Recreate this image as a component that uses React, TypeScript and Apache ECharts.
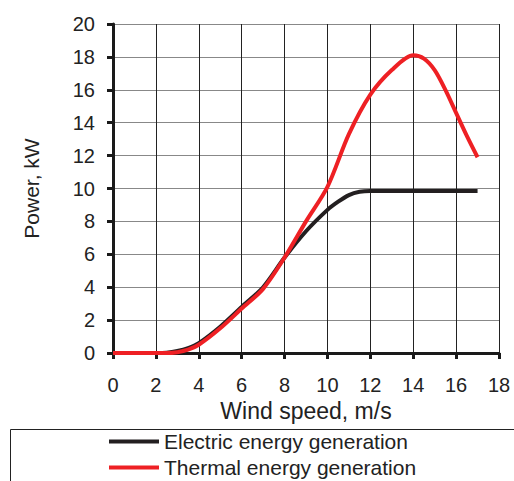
import React, { useEffect, useRef } from "react";
import * as echarts from "echarts";

const windSpeed = [0, 1, 2, 2.5, 3, 3.5, 4, 5, 6, 7, 8, 9, 10, 10.5, 11, 11.5, 12, 13, 14, 15, 16, 17];
const electric = [0, 0, 0, 0.02, 0.12, 0.3, 0.6, 1.6, 2.8, 4.0, 5.8, 7.4, 8.7, 9.2, 9.6, 9.8, 9.85, 9.85, 9.85, 9.85, 9.85, 9.85];
const thermalX = [0, 1, 2, 2.5, 3, 3.5, 4, 5, 6, 7, 8, 9, 10, 11, 12, 13, 14, 14.5, 15, 15.5, 16, 16.5, 17];
const thermal = [0, 0, 0, 0, 0.05, 0.2, 0.5, 1.5, 2.7, 3.9, 5.8, 8.0, 10.1, 13.3, 15.7, 17.2, 18.1, 17.9, 17.2, 16.0, 14.6, 13.2, 11.9];
const seriesNames = ["Electric energy generation", "Thermal energy generation"];

export default function App() {
  const ref = useRef<HTMLDivElement>(null);
  useEffect(() => {
    const chart = echarts.init(ref.current!, null, { renderer: "svg" });
    const font = "Liberation Sans, Arial, sans-serif";
    const legendBase = {
      orient: "horizontal",
      left: 104,
      itemWidth: 50,
      itemHeight: 4,
      icon: "rect",
      textStyle: { fontSize: 21, color: "#222", fontFamily: font },
    };
    chart.setOption({
      animation: false,
      textStyle: { fontFamily: font },
      grid: { left: 113, right: 15, top: 24, bottom: 128 },
      xAxis: {
        type: "value",
        min: 0,
        max: 18,
        interval: 2,
        name: "Wind speed, m/s",
        nameLocation: "middle",
        nameGap: 46,
        nameTextStyle: { fontSize: 23, color: "#222", fontFamily: font },
        axisLine: { onZero: false, lineStyle: { color: "#1a1a1a", width: 3 } },
        axisTick: { show: true, length: 6, lineStyle: { color: "#1a1a1a", width: 3 } },
        axisLabel: { fontSize: 20, color: "#222", margin: 22, fontFamily: font },
        splitLine: { show: true, lineStyle: { color: "#222", width: 1 } },
      },
      yAxis: {
        type: "value",
        min: 0,
        max: 20,
        interval: 2,
        name: "Power, kW",
        nameLocation: "middle",
        nameGap: 71,
        nameTextStyle: { fontSize: 21, color: "#222", fontFamily: font },
        axisLine: { show: true, lineStyle: { color: "#1a1a1a", width: 3 } },
        axisTick: { show: true, length: 6, lineStyle: { color: "#1a1a1a", width: 3 } },
        axisLabel: { fontSize: 20, color: "#222", margin: 18, fontFamily: font },
        splitLine: { show: true, lineStyle: { color: "#888", width: 1.2 } },
      },
      legend: [
        { ...legendBase, top: 426, data: [seriesNames[0]] },
        { ...legendBase, top: 452, data: [seriesNames[1]] },
      ],
      graphic: [
        {
          type: "rect",
          shape: { x: 10.5, y: 429.5, width: 520, height: 80 },
          style: { fill: "none", stroke: "#222", lineWidth: 1 },
          silent: true,
        },
      ],
      series: [
        {
          name: seriesNames[0],
          type: "line",
          smooth: 0.3,
          showSymbol: false,
          lineStyle: { color: "#231f20", width: 4 },
          itemStyle: { color: "#231f20" },
          data: windSpeed.map((x, i) => [x, electric[i]]),
          z: 3,
        },
        {
          name: seriesNames[1],
          type: "line",
          smooth: 0.3,
          showSymbol: false,
          lineStyle: { color: "#ee2024", width: 4 },
          itemStyle: { color: "#ee2024" },
          data: thermalX.map((x, i) => [x, thermal[i]]),
          z: 4,
        },
      ],
    });
    return () => chart.dispose();
  }, []);
  return <div ref={ref} style={{ width: 514, height: 481, position: "absolute", left: 0, top: 0 }} />;
}
